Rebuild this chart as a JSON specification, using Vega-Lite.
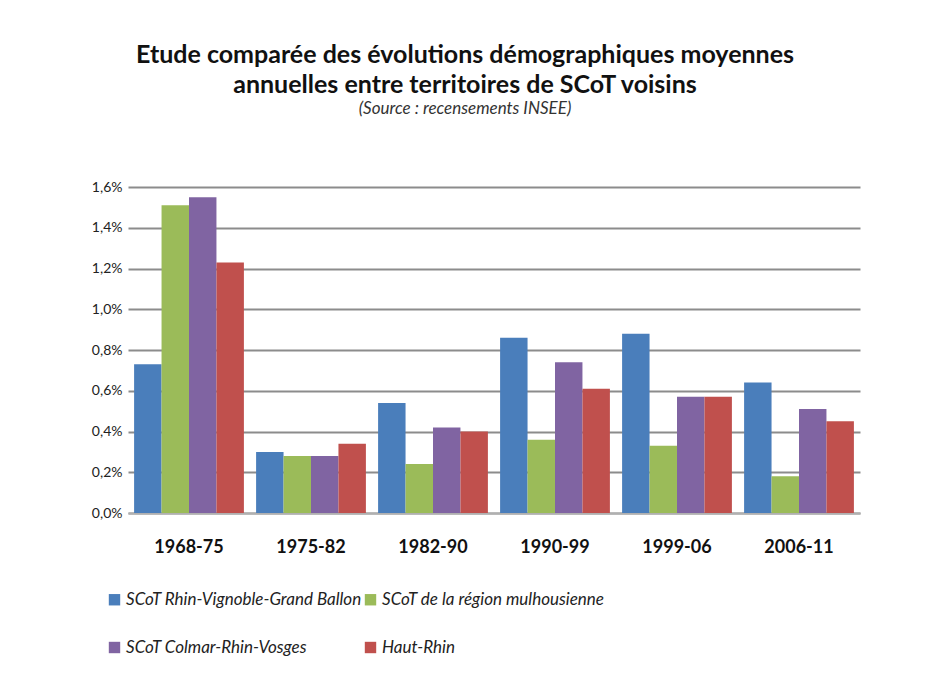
{
  "$schema": "https://vega.github.io/schema/vega-lite/v6.json",
  "autosize": {"type": "none"},
  "width": 732,
  "height": 326,
  "padding": {"left": 128, "top": 187, "right": 66, "bottom": 164},
  "background": "white",
  "title": {
    "text": ["Etude comparée des évolutions démographiques moyennes", "annuelles entre territoires de SCoT voisins"],
    "subtitle": "(Source : recensements INSEE)",
    "anchor": "middle",
    "dx": -29,
    "offset": 63,
    "font": "Lato",
    "fontSize": 25,
    "fontWeight": "bold",
    "color": "#111111",
    "lineHeight": 30,
    "subtitleFont": "Lato",
    "subtitleFontSize": 17,
    "subtitleFontStyle": "italic",
    "subtitleColor": "#333333",
    "subtitlePadding": 3
  },
  "data": {
    "values": [
      {"period": "1968-75", "series": "SCoT Rhin-Vignoble-Grand Ballon", "value": 0.0073},
      {"period": "1968-75", "series": "SCoT de la région mulhousienne", "value": 0.0151},
      {"period": "1968-75", "series": "SCoT Colmar-Rhin-Vosges", "value": 0.0155},
      {"period": "1968-75", "series": "Haut-Rhin", "value": 0.0123},
      {"period": "1975-82", "series": "SCoT Rhin-Vignoble-Grand Ballon", "value": 0.0030},
      {"period": "1975-82", "series": "SCoT de la région mulhousienne", "value": 0.0028},
      {"period": "1975-82", "series": "SCoT Colmar-Rhin-Vosges", "value": 0.0028},
      {"period": "1975-82", "series": "Haut-Rhin", "value": 0.0034},
      {"period": "1982-90", "series": "SCoT Rhin-Vignoble-Grand Ballon", "value": 0.0054},
      {"period": "1982-90", "series": "SCoT de la région mulhousienne", "value": 0.0024},
      {"period": "1982-90", "series": "SCoT Colmar-Rhin-Vosges", "value": 0.0042},
      {"period": "1982-90", "series": "Haut-Rhin", "value": 0.0040},
      {"period": "1990-99", "series": "SCoT Rhin-Vignoble-Grand Ballon", "value": 0.0086},
      {"period": "1990-99", "series": "SCoT de la région mulhousienne", "value": 0.0036},
      {"period": "1990-99", "series": "SCoT Colmar-Rhin-Vosges", "value": 0.0074},
      {"period": "1990-99", "series": "Haut-Rhin", "value": 0.0061},
      {"period": "1999-06", "series": "SCoT Rhin-Vignoble-Grand Ballon", "value": 0.0088},
      {"period": "1999-06", "series": "SCoT de la région mulhousienne", "value": 0.0033},
      {"period": "1999-06", "series": "SCoT Colmar-Rhin-Vosges", "value": 0.0057},
      {"period": "1999-06", "series": "Haut-Rhin", "value": 0.0057},
      {"period": "2006-11", "series": "SCoT Rhin-Vignoble-Grand Ballon", "value": 0.0064},
      {"period": "2006-11", "series": "SCoT de la région mulhousienne", "value": 0.0018},
      {"period": "2006-11", "series": "SCoT Colmar-Rhin-Vosges", "value": 0.0051},
      {"period": "2006-11", "series": "Haut-Rhin", "value": 0.0045}
    ]
  },
  "mark": {"type": "bar", "stroke": null},
  "encoding": {
    "x": {
      "field": "period",
      "type": "nominal",
      "sort": null,
      "title": null,
      "scale": {"paddingInner": 0.1, "paddingOuter": 0.05},
      "axis": {
        "labelAngle": 0,
        "labelFont": "Lato",
        "labelFontSize": 18,
        "labelFontWeight": "bold",
        "labelColor": "#111111",
        "labelPadding": 25,
        "ticks": false,
        "domainColor": "#b0b0b0",
        "domainWidth": 2
      }
    },
    "xOffset": {
      "field": "series",
      "type": "nominal",
      "sort": ["SCoT Rhin-Vignoble-Grand Ballon", "SCoT de la région mulhousienne", "SCoT Colmar-Rhin-Vosges", "Haut-Rhin"]
    },
    "y": {
      "field": "value",
      "type": "quantitative",
      "title": null,
      "scale": {"domain": [0, 0.016], "nice": false},
      "axis": {
        "values": [0, 0.002, 0.004, 0.006, 0.008, 0.01, 0.012, 0.014, 0.016],
        "labelExpr": "replace(format(datum.value, '.1%'), '.', ',')",
        "labelFont": "Lato",
        "labelFontSize": 14,
        "labelColor": "#222222",
        "labelPadding": 6,
        "domain": false,
        "ticks": false,
        "grid": true,
        "gridColor": "#8c8c8c",
        "gridWidth": 2
      }
    },
    "color": {
      "field": "series",
      "type": "nominal",
      "sort": ["SCoT Rhin-Vignoble-Grand Ballon", "SCoT de la région mulhousienne", "SCoT Colmar-Rhin-Vosges", "Haut-Rhin"],
      "scale": {
        "domain": ["SCoT Rhin-Vignoble-Grand Ballon", "SCoT de la région mulhousienne", "SCoT Colmar-Rhin-Vosges", "Haut-Rhin"],
        "range": ["#4a7ebb", "#9bbb59", "#8064a2", "#c0504d"]
      },
      "legend": {
        "title": null,
        "orient": "none",
        "legendX": -22,
        "legendY": 404,
        "direction": "horizontal",
        "columns": 2,
        "columnPadding": 0,
        "rowPadding": 30,
        "symbolType": "square",
        "symbolSize": 130,
        "symbolStrokeWidth": 0,
        "labelFont": "Lato",
        "labelFontSize": 17,
        "labelFontStyle": "italic",
        "labelColor": "#222222",
        "labelLimit": 400,
        "labelOffset": 3
      }
    }
  },
  "config": {
    "view": {"stroke": null}
  }
}
